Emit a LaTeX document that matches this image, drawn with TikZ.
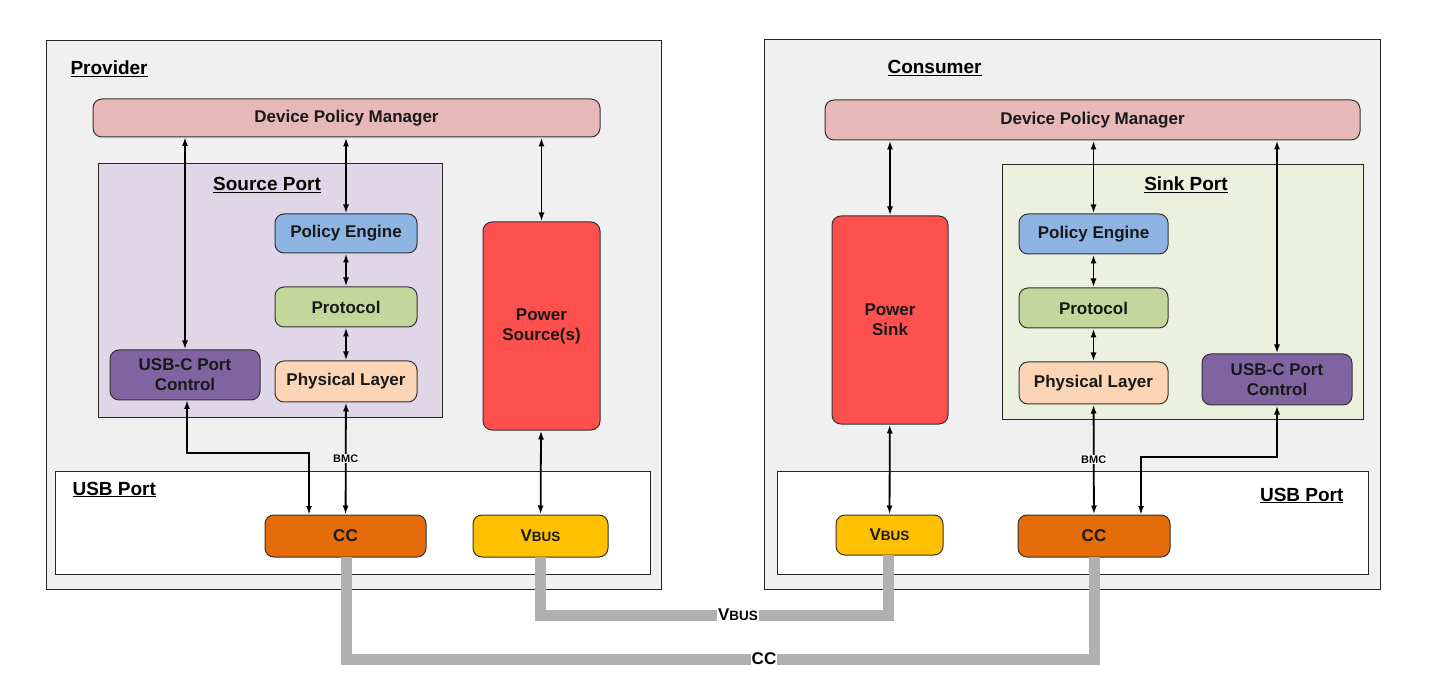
\documentclass[tikz,border=0pt]{standalone}
\usepackage{fontspec}
\setmainfont{Liberation Sans}
\usetikzlibrary{arrows.meta}
\definecolor{outer}{HTML}{F0F0F0}
\definecolor{dpm}{HTML}{E6B9B8}
\definecolor{srcp}{HTML}{DFD7E8}
\definecolor{sinkp}{HTML}{EBF1DE}
\definecolor{pe}{HTML}{8EB4E3}
\definecolor{proto}{HTML}{C3D69B}
\definecolor{phy}{HTML}{FBD5B5}
\definecolor{usbc}{HTML}{8064A2}
\definecolor{pwr}{HTML}{FF5050}
\definecolor{cc}{HTML}{E46C0A}
\definecolor{vbus}{HTML}{FFC000}
\definecolor{cable}{HTML}{B0B0B0}
\newcommand{\vb}{V{\fontsize{13.5}{14}\selectfont BUS}}
\begin{document}
\begin{tikzpicture}[x=1pt,y=-1pt,
  box/.style={draw=black!80,line width=1pt,rounded corners=9pt,font=\fontsize{17}{20}\selectfont\bfseries,align=center,text=black!90},
  area/.style={draw=black!85,line width=1pt},
  ttl/.style={font=\fontsize{19}{21}\selectfont\bfseries,anchor=base west},
  arr/.style={line width=1.8pt,{Latex[length=9pt,width=6pt]}-{Latex[length=9pt,width=6pt]}},
  cab/.style={line width=11pt,cable},
  clab/.style={fill=white,inner sep=1pt,font=\fontsize{17}{20}\selectfont\bfseries},
  bmc/.style={fill=white,inner sep=1pt,font=\fontsize{11}{12}\selectfont\bfseries}]
\useasboundingbox (0,0) rectangle (1443,700);
% Provider
\draw[area,fill=outer] (46,41) rectangle (661,589);
\node[ttl] (provl) at (67,75) {\underline{Provider}};
\node[box,fill=dpm,minimum width=507pt,minimum height=38pt] (dpmL) at (346.5,118) {Device Policy Manager};
\draw[area,fill=srcp] (98,164) rectangle (442,417);
\node[ttl,anchor=base] (srcl) at (267,191) {\underline{Source Port}};
\node[box,fill=pe,minimum width=142pt,minimum height=39pt] (peL) at (346,233.5) {Policy Engine};
\node[box,fill=proto,minimum width=142pt,minimum height=40pt] (prL) at (346,307) {Protocol};
\node[box,fill=phy,minimum width=142pt,minimum height=41pt] (phL) at (346,381.5) {Physical Layer};
\node[box,fill=usbc,minimum width=150pt,minimum height=50pt] (ucL) at (185,375) {USB-C Port\\Control};
\node[box,fill=pwr,minimum width=117pt,minimum height=208pt] (psL) at (541.5,326) {Power\\Source(s)};
\draw[area,fill=white] (55,471) rectangle (650,574);
\node[ttl] (usbL) at (69,495) {\underline{USB Port}};
\node[box,fill=cc,minimum width=161pt,minimum height=42pt] (ccL) at (345.5,536) {CC};
\node[box,fill=vbus,minimum width=135pt,minimum height=42pt] (vbL) at (540.5,536) {\vb};
% Consumer
\draw[area,fill=outer] (764,40) rectangle (1380,589);
\node[ttl] (consl) at (884,74) {\underline{Consumer}};
\node[box,fill=dpm,minimum width=535pt,minimum height=40pt] (dpmR) at (1092.5,120) {Device Policy Manager};
\draw[area,fill=sinkp] (1002,165) rectangle (1363,419);
\node[ttl,anchor=base] (sinkl) at (1186,191) {\underline{Sink Port}};
\node[box,fill=pe,minimum width=149pt,minimum height=40pt] (peR) at (1093.5,234) {Policy Engine};
\node[box,fill=proto,minimum width=149pt,minimum height=40pt] (prR) at (1093.5,308) {Protocol};
\node[box,fill=phy,minimum width=149pt,minimum height=42pt] (phR) at (1093.5,383) {Physical Layer};
\node[box,fill=usbc,minimum width=150pt,minimum height=51pt] (ucR) at (1277,379.5) {USB-C Port\\Control};
\node[box,fill=pwr,minimum width=116pt,minimum height=208pt] (psR) at (890,320) {Power\\Sink};
\draw[area,fill=white] (777,471) rectangle (1368,574);
\node[ttl,anchor=base east] (usbR) at (1347,501) {\underline{USB Port}};
\node[box,fill=vbus,minimum width=107pt,minimum height=40pt] (vbR) at (889.5,535) {\vb};
\node[box,fill=cc,minimum width=152pt,minimum height=42pt] (ccR) at (1094,536) {CC};
% arrows left
\draw[arr] (185,137) -- (ucL.north -| 185,0);
\draw[arr] (dpmL.south -| peL.north) -- (peL.north);
\draw[arr] (peL) -- (prL);
\draw[arr] (prL) -- (phL);
\draw[arr] (phL) -- node[bmc,pos=0.5] (bmcL) {BMC} (ccL);
\draw[arr] (dpmL.south -| psL.north) -- (psL.north);
\draw[arr] (psL) -- (vbL);
\draw[arr] (187,400) |- (309,453) -- (309,515);
% arrows right
\draw[arr] (dpmR.south -| psR.north) -- (psR.north);
\draw[arr] (psR) -- (vbR);
\draw[arr] (dpmR.south -| peR.north) -- (peR.north);
\draw[arr] (peR) -- (prR);
\draw[arr] (prR) -- (phR);
\draw[arr] (phR) -- node[bmc,pos=0.5] (bmcR) {BMC} (ccR);
\draw[arr] (dpmR.south -| ucR.north) -- (ucR.north);
\draw[arr] (ucR.south) |- (1141,457) -- (1141,515);
% cables
\coordinate (v1) at (540,615); \coordinate (v2) at (888,615);
\coordinate (c1) at (346,659); \coordinate (c2) at (1094,659);
\draw[cab] (540,557) -- (v1) -- (v2) -- (888,555);
\draw[cab] (346,557) -- (c1) -- (c2) -- (1094,557);
\node[clab] (vbl) at (738,615) {\vb};
\node[clab] (ccl) at (764,659) {CC};
\end{tikzpicture}
\end{document}
